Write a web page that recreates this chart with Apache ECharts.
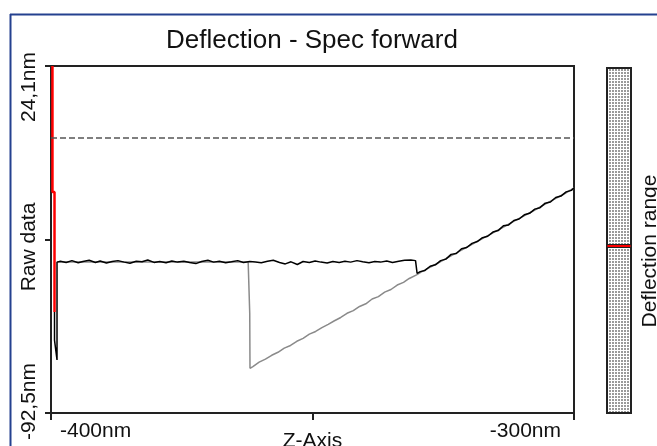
<!DOCTYPE html>
<html>
<head>
    <meta charset="utf-8">
    <title>Deflection - Spec forward</title>
    <script src="https://cdn.jsdelivr.net/npm/echarts@6.0.0/dist/echarts.min.js"></script>
    <style>
        html, body { margin: 0; padding: 0; background: #fff; }
        #chart { width: 657px; height: 446px; }
    </style>
</head>
<body>
    <div id="chart"></div>

    <script>
        // Z-Axis (nm) / deflection (nm)
        const zRange = [-400, -300];
        const deflRange = [-92.5, 24.1];
        const deflTicks = [-92.5, -34.2, 24.1];
        const setpoint = 0;

        // retract curve (grey), right to left
        const backwardCurve = [
            [-300.0, -16.9], [-302.0, -19.0], [-305.0, -21.8], [-308.0, -24.8], [-311.0, -27.6],
            [-314.0, -30.5], [-317.0, -33.4], [-320.0, -36.3], [-323.0, -39.2], [-326.0, -42.1],
            [-329.0, -44.9], [-330.1, -46.1], [-331.5, -47.3], [-332.6, -48.6], [-333.8, -49.5],
            [-335.0, -51.0], [-336.2, -51.9], [-337.4, -53.4], [-338.6, -54.2], [-339.8, -55.8],
            [-341.0, -56.7], [-342.2, -58.1], [-343.4, -59.0], [-344.6, -60.4], [-345.8, -61.5],
            [-347.0, -62.7], [-348.2, -63.8], [-349.4, -65.1], [-350.6, -66.0], [-351.8, -67.4],
            [-353.0, -68.4], [-354.2, -69.8], [-355.4, -70.7], [-356.6, -72.1], [-357.8, -73.1],
            [-359.0, -74.4], [-360.2, -75.4], [-361.4, -76.9], [-361.95, -77.5], [-362.0, -59.0],
            [-362.3, -58.9], [-362.3, -41.8], [-370.0, -41.8], [-385.0, -41.8], [-398.85, -41.8]
        ];

        // approach curve (black), left to right
        const forwardCurve = [
            [-399.33, -58.6], [-399.33, -68.0], [-398.85, -74.7], [-398.85, -41.8],
            [-398.2, -41.5], [-397.1, -41.9], [-396.0, -41.3], [-394.8, -42.0], [-393.9, -41.6],
            [-392.7, -41.2], [-391.5, -41.9], [-390.6, -41.4], [-389.4, -42.1], [-388.3, -41.6],
            [-387.2, -41.3], [-386.0, -41.8], [-384.9, -42.2], [-383.7, -41.5], [-382.6, -41.7],
            [-381.5, -41.1], [-380.3, -41.9], [-379.2, -41.6], [-378.0, -42.0], [-376.9, -41.4],
            [-375.8, -41.8], [-374.6, -41.5], [-373.5, -41.9], [-372.3, -42.3], [-371.2, -41.6],
            [-370.0, -41.2], [-368.9, -41.8], [-367.8, -41.5], [-366.6, -42.0], [-365.5, -41.7],
            [-364.3, -41.3], [-363.2, -41.9], [-362.0, -41.6], [-360.9, -41.8], [-359.8, -42.0],
            [-358.6, -41.5], [-357.5, -41.2], [-356.3, -41.9], [-355.2, -42.4], [-354.1, -41.7],
            [-352.9, -42.6], [-351.8, -41.6], [-350.6, -41.9], [-349.5, -41.4], [-348.4, -41.8],
            [-347.2, -42.1], [-346.1, -41.6], [-344.9, -41.9], [-343.8, -41.5], [-342.7, -41.8],
            [-341.5, -41.3], [-340.4, -41.7], [-339.2, -42.0], [-338.1, -41.6], [-337.0, -41.8],
            [-335.8, -41.4], [-334.7, -41.9], [-333.5, -41.5], [-332.4, -41.2], [-331.2, -41.1],
            [-330.3, -41.3], [-330.0, -41.2], [-330.0, -45.6],
            [-329.4, -45.0], [-328.5, -44.6], [-327.5, -43.2], [-326.5, -42.7], [-325.5, -41.3],
            [-324.5, -40.8], [-323.5, -39.2], [-322.5, -38.9], [-321.5, -37.3], [-320.5, -36.9],
            [-319.5, -35.5], [-318.5, -34.9], [-317.5, -33.6], [-316.5, -33.1], [-315.5, -31.7],
            [-314.5, -31.2], [-313.5, -29.6], [-312.5, -29.3], [-311.5, -27.8], [-310.5, -27.3],
            [-309.5, -25.9], [-308.5, -25.4], [-307.5, -24.0], [-306.5, -23.5], [-305.5, -22.0],
            [-304.5, -21.6], [-303.5, -20.1], [-302.5, -19.6], [-301.5, -18.2], [-300.5, -17.7],
            [-300.0, -16.9]
        ];

        // red trace at the left edge
        const redTrace = [
            [-399.72, 24.1], [-399.72, -18.2], [-399.33, -18.2], [-399.33, -58.6]
        ];

        const FONT = '"Liberation Sans", Arial, sans-serif';

        // dotted fill for the range bar
        const dots = document.createElement('canvas');
        dots.width = 3; dots.height = 3;
        const dctx = dots.getContext('2d');
        dctx.fillStyle = '#ffffff';
        dctx.fillRect(0, 0, 3, 3);
        dctx.fillStyle = '#9a9a9a';
        dctx.fillRect(0, 0, 2, 2);

        const chart = echarts.init(document.getElementById('chart'));

        const option = {
            animation: false,
            backgroundColor: '#fff',
            title: {
                text: 'Deflection - Spec forward',
                left: 312,
                top: 28,
                textAlign: 'center',
                padding: 0,
                textStyle: { fontFamily: FONT, fontSize: 26, fontWeight: 'normal', color: '#111' }
            },
            grid: {
                left: 51, top: 66, width: 523, height: 347,
                containLabel: false,
                outerBoundsMode: 'none',
                show: true, borderColor: '#222', borderWidth: 2
            },
            xAxis: {
                type: 'value',
                min: zRange[0], max: zRange[1], interval: 50,
                name: 'Z-Axis',
                nameLocation: 'middle',
                nameGap: 18,
                nameMoveOverlap: false,
                nameTextStyle: { fontFamily: FONT, fontSize: 21, color: '#111' },
                axisLine: { onZero: false, lineStyle: { color: '#222', width: 2 } },
                axisTick: { length: 7, lineStyle: { color: '#222', width: 2 } },
                axisLabel: {
                    fontFamily: FONT, fontSize: 21, color: '#111', margin: 8,
                    alignMinLabel: 'left', alignMaxLabel: 'right',
                    formatter: v => (v === -350 ? '' : v + 'nm'),
                    padding: [0, 13, 0, 9]
                },
                splitLine: { show: false }
            },
            yAxis: {
                type: 'value',
                min: deflRange[0], max: deflRange[1],
                axisLine: { show: true, onZero: false, lineStyle: { color: '#222', width: 2 } },
                axisTick: { show: true, length: 6, customValues: deflTicks, lineStyle: { color: '#222', width: 2 } },
                axisLabel: { show: false },
                splitLine: { show: false }
            },
            series: [
                {
                    name: 'backward',
                    type: 'line',
                    showSymbol: false,
                    data: backwardCurve,
                    lineStyle: { color: '#8a8a8a', width: 1.5 },
                    markLine: {
                        silent: true,
                        symbol: 'none',
                        label: { show: false },
                        lineStyle: { color: '#555', width: 1.5, type: [6, 3] },
                        data: [{ yAxis: setpoint }]
                    }
                },
                {
                    name: 'forward',
                    type: 'line',
                    showSymbol: false,
                    data: forwardCurve,
                    lineStyle: { color: '#000', width: 1.5 }
                },
                {
                    name: 'red',
                    type: 'line',
                    showSymbol: false,
                    data: redTrace,
                    lineStyle: { color: '#ff0000', width: 2.5 }
                }
            ],
            graphic: [
                // blue window frame
                { type: 'line', shape: { x1: 10, y1: 14.5, x2: 657, y2: 14.5 }, style: { stroke: '#24418f', lineWidth: 2 } },
                { type: 'line', shape: { x1: 10.5, y1: 14, x2: 10.5, y2: 446 }, style: { stroke: '#24418f', lineWidth: 2 } },
                // y labels
                { type: 'text', x: 29, y: 122, rotation: Math.PI / 2,
                  style: { text: '24,1nm', font: '21px ' + FONT, fill: '#111', align: 'left', verticalAlign: 'middle' } },
                { type: 'text', x: 29, y: 440, rotation: Math.PI / 2,
                  style: { text: '-92,5nm', font: '21px ' + FONT, fill: '#111', align: 'left', verticalAlign: 'middle' } },
                { type: 'text', x: 29, y: 247, rotation: Math.PI / 2,
                  style: { text: 'Raw data', font: '21px ' + FONT, fill: '#111', align: 'center', verticalAlign: 'middle' } },
                // range bar
                { type: 'rect', shape: { x: 607, y: 68, width: 24, height: 345 },
                  style: { fill: { image: dots, repeat: 'repeat' }, stroke: '#222', lineWidth: 2 } },
                { type: 'rect', shape: { x: 607, y: 244.5, width: 24, height: 3 },
                  style: { fill: '#ff0000', stroke: '#222', lineWidth: 1 } },
                { type: 'text', x: 650, y: 251, rotation: Math.PI / 2,
                  style: { text: 'Deflection range', font: '21px ' + FONT, fill: '#111', align: 'center', verticalAlign: 'middle' } }
            ]
        };

        chart.setOption(option);
    </script>
</body>
</html>
